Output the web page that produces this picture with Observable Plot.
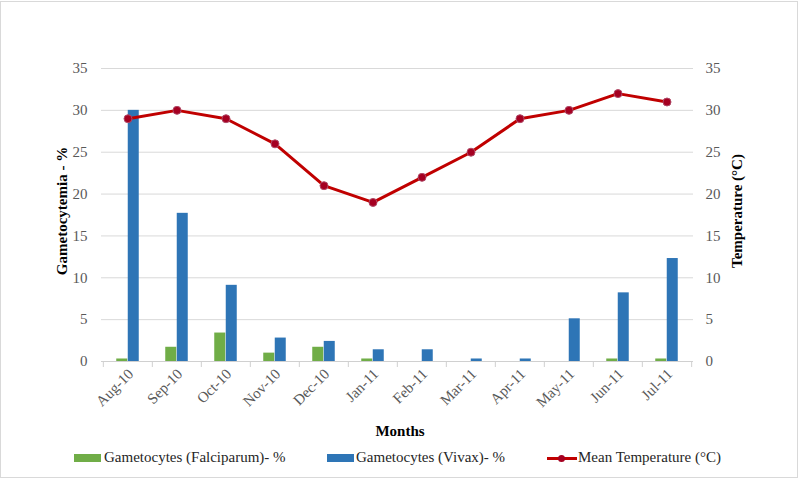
<!DOCTYPE html>
<html>
<head>
<meta charset="utf-8">
<script src="https://cdn.jsdelivr.net/npm/d3@7"></script>
<script src="https://cdn.jsdelivr.net/npm/@observablehq/plot@0.6"></script>
<style>
  body { margin: 0; background: #fff; font-family: "Liberation Serif", "Times New Roman", serif; }
  #wrap { position: relative; width: 800px; height: 480px; overflow: hidden; background: #fff; }
  #frame { position: absolute; left: 0; top: 1px; width: 798px; height: 477px; border: 1px solid #d9d9d9; box-sizing: border-box; pointer-events: none; }
  #chart { position: absolute; left: 0; top: 0; }
  #xtitle { position: absolute; left: 0; width: 800px; top: 423px; text-align: center; font-weight: bold; font-size: 15px; color: #000; }
  .leg { position: absolute; top: 448px; font-size: 15px; color: #262626; white-space: nowrap; line-height: 18px; }
  .sw { position: absolute; height: 8px; width: 27px; top: 6px; }
  .ln { position: absolute; height: 3px; width: 30px; top: 9px; background: #c00000; }
  .dt { position: absolute; width: 7px; height: 7px; border-radius: 50%; background: #a50021; top: 7px; left: 11px; }
</style>
</head>
<body>
<div id="wrap">
  <div id="chart"></div>
  <div id="xtitle">Months</div>
  <div class="leg" style="left:74px"><span class="sw" style="left:0;background:#70ad47"></span><span style="margin-left:30px">Gametocytes (Falciparum)- %</span></div>
  <div class="leg" style="left:327px"><span class="sw" style="left:0;background:#2e75b6"></span><span style="margin-left:29px">Gametocytes (Vivax)- %</span></div>
  <div class="leg" style="left:547px"><span class="ln" style="left:0"></span><span class="dt"></span><span style="margin-left:31px">Mean Temperature (°C)</span></div>
  <div id="frame"></div>
</div>
<script>
const months = ["Aug-10", "Sep-10", "Oct-10", "Nov-10", "Dec-10", "Jan-11", "Feb-11", "Mar-11", "Apr-11", "May-11", "Jun-11", "Jul-11"];
const falciparum = [0.3, 1.7, 3.4, 1.0, 1.7, 0.3, 0, 0, 0, 0, 0.3, 0.3];
const vivax = [30, 17.7, 9.1, 2.8, 2.4, 1.4, 1.4, 0.3, 0.3, 5.1, 8.2, 12.3];
const meanTemp = [29, 30, 29, 26, 21, 19, 22, 25, 29, 30, 32, 31];
const yTicks = [0, 5, 10, 15, 20, 25, 30, 35];
const leftTitle = "Gametocytemia - %";
const rightTitle = "Temperature (°C)";

const table = months.map((m, i) => ({ month: m, falciparum: falciparum[i], vivax: vivax[i], temp: meanTemp[i] }));

const W = 800, H = 420, mL = 101, mR = 107;
const step = (W - mL - mR) / months.length;
const barW = 11.5;
const FF = "Liberation Serif, Times New Roman, serif";

const chart = Plot.plot({
  width: W,
  height: H,
  marginTop: 68,
  marginBottom: 59,
  marginLeft: mL,
  marginRight: mR,
  style: { fontFamily: FF, fontSize: "15px", color: "#595959", background: "transparent", overflow: "visible" },
  x: { domain: months, paddingInner: 1 - barW / step, paddingOuter: (1 - barW / step) / 2, label: null },
  y: { domain: [0, 35], label: null },
  marks: [
    Plot.gridY({ ticks: yTicks, stroke: "#d9d9d9", strokeOpacity: 1 }),
    Plot.axisY({ anchor: "left", ticks: yTicks, tickSize: 0, tickPadding: 14, label: null, fill: "#595959", fontSize: 15, fontFamily: FF }),
    Plot.axisY({ anchor: "right", ticks: yTicks, tickSize: 0, tickPadding: 12, label: null, fill: "#595959", fontSize: 15, fontFamily: FF }),
    Plot.barY(table, { x: "month", y: "falciparum", fill: "#70ad47", dx: -barW / 2 }),
    Plot.barY(table, { x: "month", y: "vivax", fill: "#2e75b6", dx: barW / 2 }),
    Plot.ruleY([0], { stroke: "#d0d0d0" }),
    Plot.axisX({ ticks: months, tickSize: 6, tickFormat: () => "", dx: -step / 2, stroke: "#d0d0d0", label: null }),
    Plot.axisX({ ticks: [months[months.length - 1]], tickSize: 6, tickFormat: () => "", dx: step / 2, stroke: "#d0d0d0", label: null }),
    Plot.axisX({ ticks: months, tickSize: 0, tickRotate: -45, tickPadding: 10, dx: 3, fill: "#595959", fontSize: 15, fontFamily: FF, label: null }),
    Plot.lineY(table, { x: "month", y: "temp", stroke: "#c00000", strokeWidth: 3 }),
    Plot.dot(table, { x: "month", y: "temp", r: 4, fill: "#a50021", stroke: "#b04a68", strokeWidth: 1 }),
    Plot.text([leftTitle], { frameAnchor: "left", textAnchor: "middle", rotate: -90, dx: -39, dy: -4, fontWeight: "bold", fill: "#000", fontSize: 15, fontFamily: FF }),
    Plot.text([rightTitle], { frameAnchor: "right", textAnchor: "middle", rotate: -90, dx: 44, dy: -4, fontWeight: "bold", fill: "#000", fontSize: 15, fontFamily: FF })
  ]
});
document.getElementById("chart").appendChild(chart);
</script>
</body>
</html>
